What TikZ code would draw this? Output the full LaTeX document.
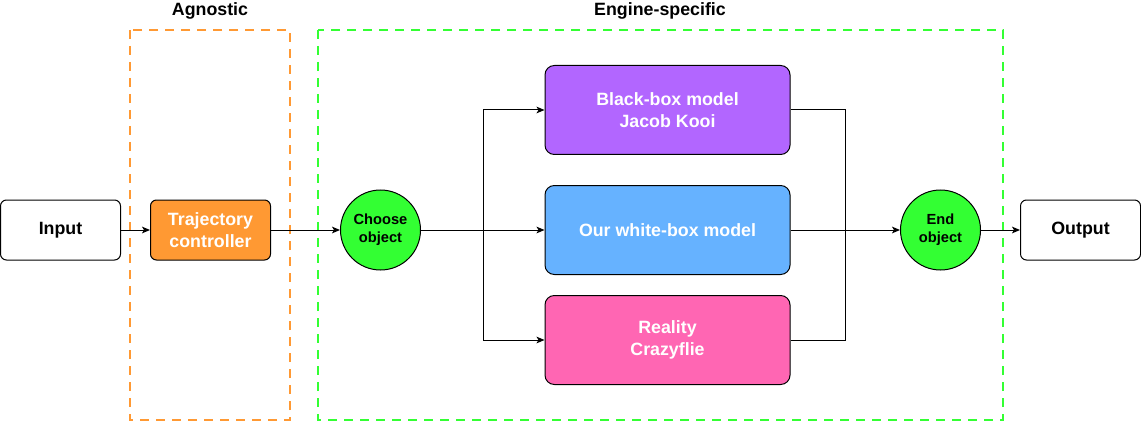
\documentclass[tikz,border=0pt]{standalone}
\usepackage{fontspec}
\setmainfont{Liberation Sans}
\usetikzlibrary{arrows.meta}

\definecolor{agnorange}{HTML}{FF9933}
\definecolor{enggreen}{HTML}{33FF33}
\definecolor{bbpurple}{HTML}{B266FF}
\definecolor{wbblue}{HTML}{66B2FF}
\definecolor{realpink}{HTML}{FF66B3}

\begin{document}
\begin{tikzpicture}[x=0.75pt,y=-0.75pt,
  smallbox/.style={draw, line width=0.75pt, rounded corners=4.5pt, minimum width=90pt, minimum height=45pt, align=center, font=\bfseries\fontsize{13.35}{16}\selectfont},
  bigbox/.style={draw, line width=0.75pt, rounded corners=7pt, minimum width=183.75pt, minimum height=66.75pt, align=center, text=white, font=\bfseries\fontsize{13.35}{16}\selectfont},
  objcircle/.style={draw, circle, line width=0.75pt, fill=enggreen, minimum size=60pt, inner sep=0pt, align=center, font=\bfseries\fontsize{11}{13.5}\selectfont},
  groupbox/.style={line width=1.5pt, dash pattern=on 7pt off 5pt},
  arr/.style={line width=0.75pt, -{Stealth[length=6pt,width=5pt,inset=1.5pt]}},
  wire/.style={line width=0.75pt}
]
\useasboundingbox (0,0) rectangle (1141,431);
% groups
\draw[groupbox, agnorange] (130,30) rectangle (290,420);
\draw[groupbox, enggreen] (318,30) rectangle (1003,420);
\node[font=\bfseries\fontsize{13.35}{16}\selectfont] (agnlabel) at (210,11) {Agnostic};
\node[font=\bfseries\fontsize{13.35}{16}\selectfont] (englabel) at (660,11) {Engine-specific};

% nodes
\node[smallbox] (input) at (60.5,230) {Input};
\node[smallbox, fill=agnorange, text=white] (traj) at (210.5,230) {Trajectory\\controller};
\node[objcircle] (choose) at (380.5,230) {Choose\\object};
\node[bigbox, fill=bbpurple] (blackbox) at (667.5,110) {Black-box model\\Jacob Kooi};
\node[bigbox, fill=wbblue] (whitebox) at (667.5,230) {Our white-box model};
\node[bigbox, fill=realpink] (reality) at (667.5,340) {Reality\\Crazyflie};
\node[objcircle] (endobj) at (940.5,230) {End\\object};
\node[smallbox] (output) at (1080.5,230) {Output};

\coordinate (split) at (483,230);
\coordinate (join) at (845,230);

% connectors
\draw[arr] (input) -- (traj);
\draw[arr] (traj) -- (choose);
\draw[arr] (choose) -- (whitebox);
\draw[arr] (split) |- (blackbox);
\draw[arr] (split) |- (reality);
\draw[wire] (blackbox) -| (join);
\draw[wire] (reality) -| (join);
\draw[arr] (whitebox) -- (endobj);
\draw[arr] (endobj) -- (output);
\end{tikzpicture}
\end{document}
